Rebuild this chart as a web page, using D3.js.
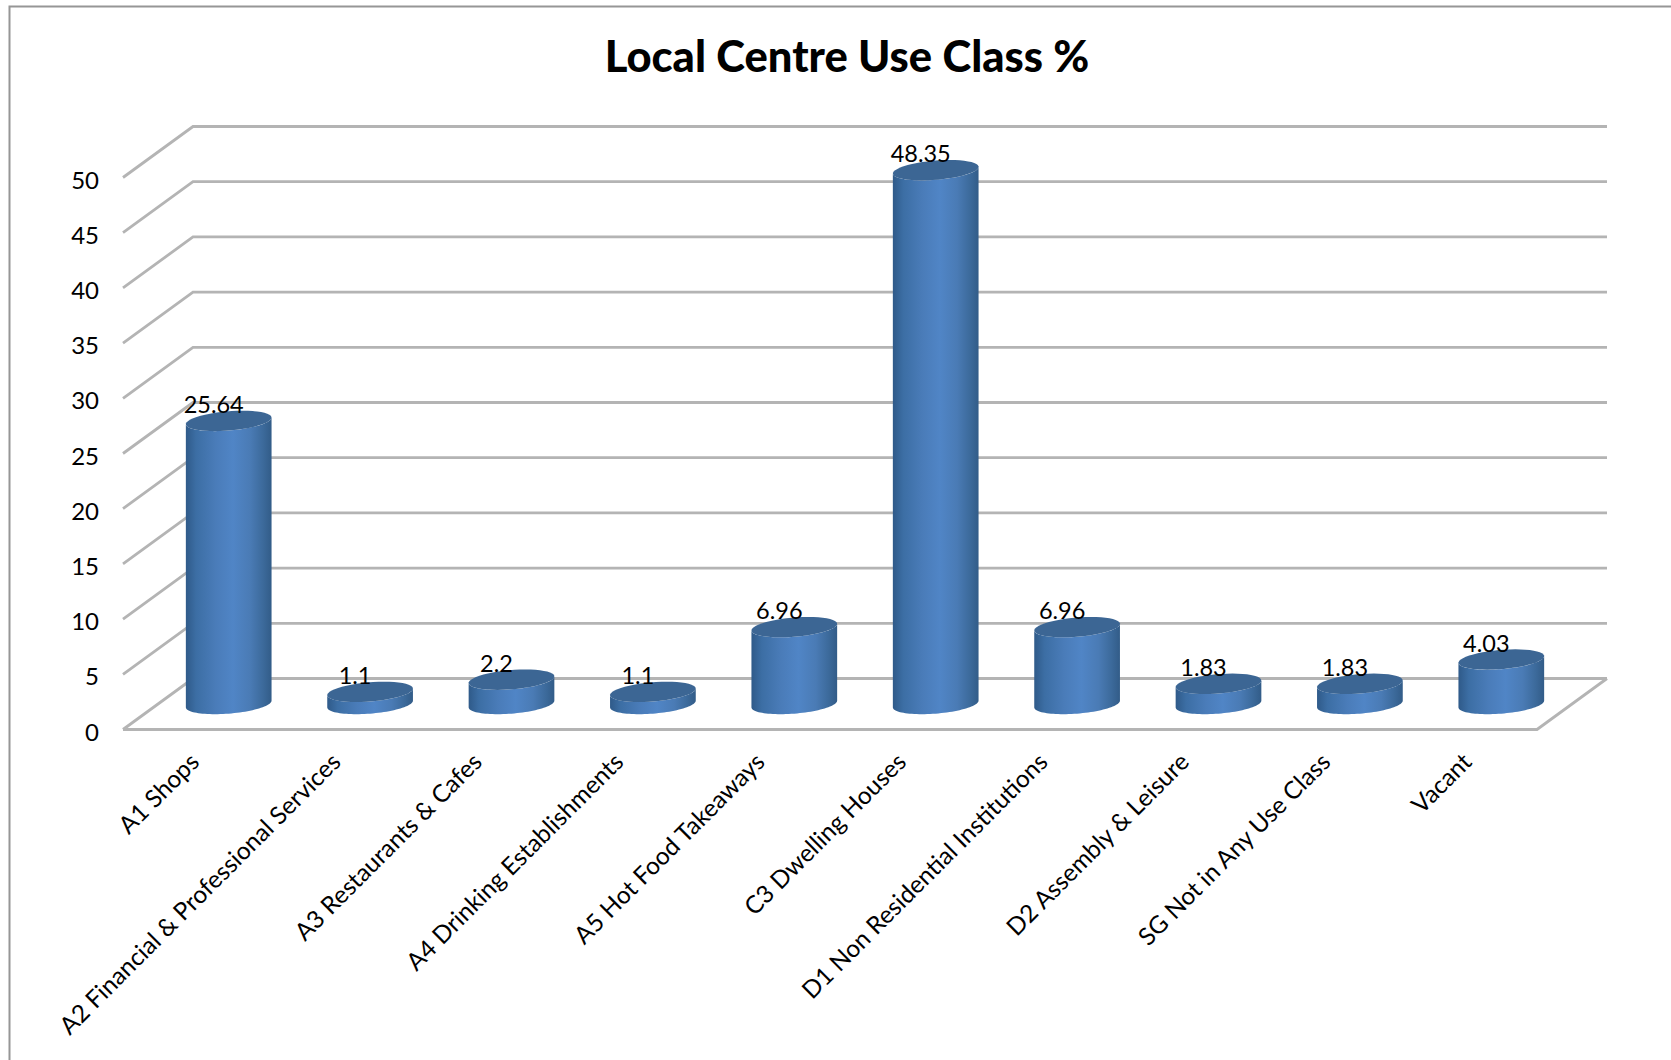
<!DOCTYPE html>
<html>
<head>
<meta charset="utf-8">
<script src="https://cdn.jsdelivr.net/npm/d3@7"></script>
<style>
  html, body { margin: 0; padding: 0; background: #fff; }
  svg { display: block; }
  text { font-family: Lato, "Open Sans", sans-serif; fill: #000; }
</style>
</head>
<body>
<div id="chart"></div>
<script>
const chartTitle = "Local Centre Use Class %";
const categories = [
  "A1 Shops",
  "A2 Financial & Professional Services",
  "A3 Restaurants & Cafes",
  "A4 Drinking Establishments",
  "A5 Hot Food Takeaways",
  "C3 Dwelling Houses",
  "D1 Non Residential Institutions",
  "D2 Assembly & Leisure",
  "SG Not in Any Use Class",
  "Vacant"
];
const shares = [25.64, 1.1, 2.2, 1.1, 6.96, 48.35, 6.96, 1.83, 1.83, 4.03];
const valueTicks = [0, 5, 10, 15, 20, 25, 30, 35, 40, 45, 50];

const width = 1671, height = 1060;
const depth = { dx: 70, dy: -51 };      // front-to-back shift of the floor
const floorFront = 729.5, plotTop = 177.5;  // y of 0 and 50 on the front edge
const frontLeft = 123, frontRight = 1537;

const x = d3.scaleBand().domain(categories).range([frontLeft, frontRight]);
const y = d3.scaleLinear().domain([0, 50]).range([floorFront, plotTop]);

const svg = d3.select("#chart").append("svg")
  .attr("width", width).attr("height", height);

// Cylinder shading runs dark-light-dark across each bar
const defs = svg.append("defs");
const shade = defs.append("linearGradient").attr("id", "cylinderSide")
  .attr("x1", 0).attr("x2", 1).attr("y1", 0).attr("y2", 0);
[[0, "#2f5a89"], [0.12, "#3c6ea4"], [0.35, "#4a7cb9"], [0.55, "#5085c6"],
 [0.75, "#4a7bb5"], [0.9, "#3c6a9b"], [1, "#325c88"]]
  .forEach(([o, c]) => shade.append("stop").attr("offset", o).attr("stop-color", c));

// Outer frame: open on the right and at the bottom of the page
svg.append("path")
  .attr("d", `M9.5,${height}V6.5H${width}`)
  .attr("fill", "none").attr("stroke", "#969696").attr("stroke-width", 2);

// Gridlines: a diagonal on the side wall, then a run along the back wall
const grid = svg.append("g").attr("fill", "none")
  .attr("stroke", "#b4b4b4").attr("stroke-width", 2.8);
grid.selectAll("path").data(valueTicks).join("path")
  .attr("d", v => {
    const py = y(v);
    return `M${frontLeft},${py}L${frontLeft + depth.dx},${py + depth.dy}H${frontRight + depth.dx}`;
  });
// Floor front and right edges
grid.append("path")
  .attr("d", `M${frontLeft},${y(0)}H${frontRight}L${frontRight + depth.dx},${y(0) + depth.dy}`);

// Cylinders: circles on the floor plane, projected with the same shear
const halfWidth = 40.5;               // radius along the front edge
const shear = 0.2;                    // radius along the depth axis, as a share of the depth
const vx = -depth.dx * shear, vy = -depth.dy * shear;
const rimPoint = (cx, cy, t) => [
  cx + halfWidth * Math.cos(t) + vx * Math.sin(t),
  cy + vy * Math.sin(t)
];
const tRight = Math.atan2(vx, halfWidth);
const sweep = (from, to) => d3.range(0, 49).map(i => from + (to - from) * i / 48);
const rim = d3.line();

const unitsToPx = v => y(0) - y(v);
const bars = svg.append("g").selectAll("g").data(categories).join("g");

bars.each(function (cat, i) {
  const g = d3.select(this);
  const cx = x(cat) + x.bandwidth() / 2 + depth.dx / 2;
  const baseY = y(0) + depth.dy / 2;
  const topY = baseY - unitsToPx(shares[i]);
  const rx = Math.hypot(halfWidth, vx);

  const lower = sweep(tRight, tRight + Math.PI).map(t => rimPoint(cx, baseY, t));
  const upper = sweep(tRight + Math.PI, tRight).map(t => rimPoint(cx, topY, t));
  defs.append("linearGradient").attr("id", `side${i}`)
    .attr("href", "#cylinderSide").attr("gradientUnits", "userSpaceOnUse")
    .attr("x1", cx - rx).attr("x2", cx + rx).attr("y1", 0).attr("y2", 0);

  g.append("path").attr("d", rim(lower.concat(upper)) + "Z")
    .attr("fill", `url(#side${i})`);
  g.append("path")
    .attr("d", rim(sweep(0, 2 * Math.PI).map(t => rimPoint(cx, topY, t))) + "Z")
    .attr("fill", "#3c6694");
  g.append("text")
    .attr("x", cx - 15).attr("y", topY - 8)
    .attr("text-anchor", "middle").attr("font-size", 23.5)
    .text(shares[i]);
});

// Value axis: labels only
const yAxis = svg.append("g").attr("transform", "translate(99,2)")
  .call(d3.axisLeft(y).tickValues(valueTicks).tickSize(0).tickPadding(0));
yAxis.select(".domain").remove();
yAxis.selectAll("text").attr("font-size", 24).attr("font-family", null)
  .attr("dy", "0.36em").style("fill", "#000");

// Category axis: labels rotated up to the right
const xAxis = svg.append("g").attr("transform", `translate(0,${floorFront})`)
  .call(d3.axisBottom(x).tickSize(0).tickPadding(0));
xAxis.select(".domain").remove();
xAxis.selectAll("text")
  .attr("font-size", 24.4).attr("font-family", null).attr("text-anchor", "end")
  .attr("dy", null)
  .attr("transform", "translate(7,34) rotate(-45)")
  .style("fill", "#000");

svg.append("text")
  .attr("x", 847).attr("y", 72)
  .attr("text-anchor", "middle").attr("font-weight", 900).attr("font-size", 43.5)
  .text(chartTitle);
</script>
</body>
</html>
